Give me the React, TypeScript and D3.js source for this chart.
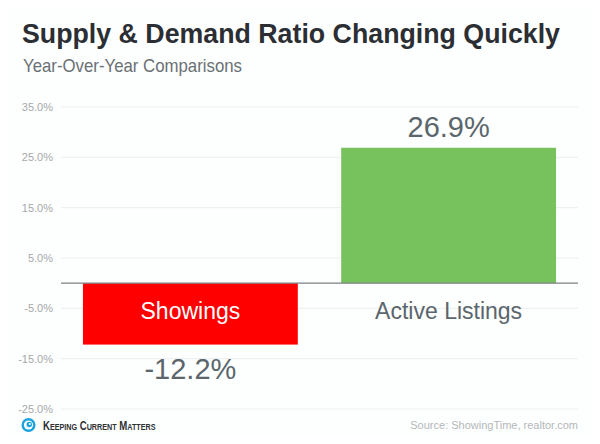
import { useEffect, useRef } from "react";
import * as d3 from "d3";

const categories = ["Showings", "Active Listings"];
const values = [-12.2, 26.9];
const barColors = ["#ff0000", "#77c25d"];
const tickValues = [35, 25, 15, 5, -5, -15, -25];

const pct = d3.formatLocale({ decimal: ".", thousands: ",", grouping: [3], currency: ["", ""], minus: "-" }).format(".1f");

export default function App() {
  const svgRef = useRef<SVGSVGElement>(null);

  useEffect(() => {
    if (!svgRef.current) return;
    const svg = d3.select(svgRef.current);
    svg.selectAll("*").remove();

    const width = 600;
    const height = 444;
    const margin = { top: 107, right: 22, bottom: 35, left: 61 };

    svg
      .attr("width", width)
      .attr("height", height)
      .attr("viewBox", `0 0 ${width} ${height}`)
      .style("font-family", "'Liberation Sans', Arial, sans-serif")
      .style("display", "block");

    svg.append("rect").attr("width", width).attr("height", height).attr("fill", "#fdfefe");

    // Title block
    svg.append("text")
      .attr("x", 22)
      .attr("y", 43)
      .text("Supply & Demand Ratio Changing Quickly")
      .attr("textLength", 538)
      .attr("lengthAdjust", "spacingAndGlyphs")
      .style("font-size", "27px")
      .style("font-weight", "bold")
      .style("fill", "#2b2e33");

    svg.append("text")
      .attr("x", 23)
      .attr("y", 72)
      .text("Year-Over-Year Comparisons")
      .attr("textLength", 219)
      .attr("lengthAdjust", "spacingAndGlyphs")
      .style("font-size", "19px")
      .style("fill", "#6a7074");

    const x = d3.scaleBand<string>()
      .domain(categories)
      .range([margin.left, width - margin.right])
      .paddingInner(0.168)
      .paddingOuter(0.085);

    const y = d3.scaleLinear()
      .domain([-25, 35])
      .range([height - margin.bottom, margin.top]);

    // Gridlines
    svg.append("g")
      .selectAll("line")
      .data(tickValues)
      .enter().append("line")
      .attr("x1", margin.left)
      .attr("x2", width - margin.right)
      .attr("y1", d => y(d))
      .attr("y2", d => y(d))
      .attr("stroke", "#eceeef")
      .attr("stroke-width", 1);

    // Tick labels
    svg.append("g")
      .selectAll("text")
      .data(tickValues)
      .enter().append("text")
      .attr("x", 53)
      .attr("y", d => y(d))
      .attr("dy", "0.35em")
      .attr("text-anchor", "end")
      .text(d => pct(d) + "%")
      .style("font-size", "11px")
      .style("fill", "#a6a9ab");

    // Bars
    svg.append("g")
      .selectAll("rect")
      .data(categories)
      .enter().append("rect")
      .attr("x", d => x(d)!)
      .attr("width", x.bandwidth())
      .attr("y", (_, i) => y(Math.max(0, values[i])))
      .attr("height", (_, i) => Math.abs(y(values[i]) - y(0)))
      .attr("fill", (_, i) => barColors[i]);

    // Zero line
    svg.append("line")
      .attr("x1", margin.left)
      .attr("x2", width - margin.right)
      .attr("y1", y(0))
      .attr("y2", y(0))
      .attr("stroke", "#7d8184")
      .attr("stroke-width", 1.2);

    // Category labels
    svg.append("g")
      .selectAll("text")
      .data(categories)
      .enter().append("text")
      .attr("x", d => x(d)! + x.bandwidth() / 2)
      .attr("y", y(0) + 36)
      .attr("text-anchor", "middle")
      .text(d => d)
      .style("font-size", "23px")
      .style("fill", (_, i) => (values[i] < 0 ? "#ffffff" : "#5a666c"));

    // Value labels
    svg.append("g")
      .selectAll("text")
      .data(categories)
      .enter().append("text")
      .attr("x", d => x(d)! + x.bandwidth() / 2)
      .attr("y", (_, i) => (values[i] < 0 ? y(values[i]) + 34 : y(values[i]) - 11))
      .attr("text-anchor", "middle")
      .text((_, i) => pct(values[i]) + "%")
      .style("font-size", "29px")
      .style("fill", "#5a666c");

    // Footer logo
    const logo = svg.append("g").attr("transform", "translate(28.5,425)");
    logo.append("circle").attr("r", 7).attr("fill", "#1ba3de");
    logo.append("circle").attr("r", 4.6).attr("fill", "#fdfefe");
    logo.append("circle").attr("cx", 0.8).attr("cy", -0.5).attr("r", 2.7).attr("fill", "#1ba3de");
    logo.append("circle").attr("cx", 1.4).attr("cy", -0.9).attr("r", 1).attr("fill", "#fdfefe");

    const brand = svg.append("text")
      .attr("transform", "translate(43,430) scale(0.8,1)")
      .style("font-weight", "bold")
      .style("fill", "#2e3133");
    ["Keeping", "Current", "Matters"].forEach((w, i) => {
      brand.append("tspan").text((i > 0 ? " " : "") + w[0]).style("font-size", "12px");
      brand.append("tspan").text(w.slice(1).toUpperCase()).style("font-size", "9px");
    });

    svg.append("text")
      .attr("x", width - margin.right)
      .attr("y", 429)
      .attr("text-anchor", "end")
      .text("Source: ShowingTime, realtor.com")
      .style("font-size", "11px")
      .style("fill", "#b4b8ba");
  }, []);

  return (
    <div style={{ margin: -8 }}>
      <svg ref={svgRef}></svg>
    </div>
  );
}
